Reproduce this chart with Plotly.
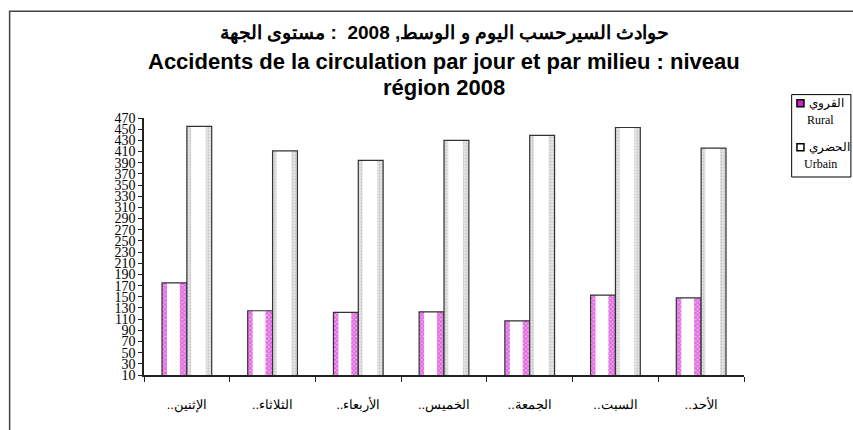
import plotly.graph_objects as go

# jours (étiquettes de l'axe des x)
days = ['الإثنين..\u200f', 'الثلاثاء..\u200f', 'الأربعاء..\u200f', 'الخميس..\u200f',
        'الجمعة..\u200f', 'السبت..\u200f', 'الأحد..\u200f']
rural = [175, 125, 122, 123, 107, 153, 148]
urbain = [455, 411, 394, 430, 439, 453, 416]
y_ticks = list(range(10, 471, 20))

title_ar = 'حوادث السيرحسب اليوم و الوسط, 2008  : مستوى الجهة'
title_fr_1 = 'Accidents de la circulation par jour et par milieu : niveau'
title_fr_2 = 'région 2008'
legend_rural = ('القروي', 'Rural')
legend_urbain = ('الحضري', 'Urbain')

W, H = 853, 430
L, R, T, B = 143.5, 109, 117.7, 55.3
PW, PH = W - L - R, H - T - B


def px(x):
    return (x - L) / PW


def py(y):
    return (H - B - y) / PH


BW = 0.29  # bar width in category units


def layer(vals, offset, width, color, pattern=None, line=None):
    return go.Bar(
        x=days, y=vals, offset=offset, width=width,
        marker=dict(color=color, pattern=pattern or {},
                    line=line or dict(width=0)),
        showlegend=False, hoverinfo='skip'
    )


fig = go.Figure()
# rural : cylindre rose / magenta
fig.add_trace(layer(rural, -BW, BW, 'white',
                    dict(shape='x', fgcolor='#d010d0', bgcolor='#f0b0f0', size=3, solidity=0.6)))
fig.add_trace(layer(rural, -BW + 0.058, 0.15, 'white'))
fig.add_trace(layer(rural, -BW, BW, 'rgba(0,0,0,0)',
                    line=dict(color='#333333', width=1.2)))
# urbain : cylindre blanc / gris
fig.add_trace(layer(urbain, 0, BW, '#d0d0d0',
                    dict(shape='.', fgcolor='#a8a8a8', bgcolor='#e4e4e4', size=3, solidity=0.3)))
fig.add_trace(layer(urbain, 0.05, 0.17, 'white'))
fig.add_trace(layer(urbain, 0, BW, 'rgba(0,0,0,0)',
                    line=dict(color='#333333', width=1.2)))

ann = []
for txt, yy, size in [(title_ar, 33, 19), (title_fr_1, 61, 22), (title_fr_2, 87, 22)]:
    ann.append(dict(text=f'<b>{txt}</b>', x=0.5, y=py(yy), xref='paper', yref='paper',
                    showarrow=False, xanchor='center', yanchor='middle',
                    font=dict(family='Liberation Sans, Arial', size=size, color='black')))

leg_font = dict(family='Liberation Serif, Times New Roman', size=12, color='black')
shapes = [
    # cadre extérieur
    dict(type='rect', xref='paper', yref='paper', x0=px(9), x1=px(900), y0=py(470), y1=py(11),
         line=dict(color='#444444', width=1.5)),
    # cadre de la légende
    dict(type='rect', xref='paper', yref='paper', x0=px(791.7), x1=px(851), y0=py(176.7), y1=py(94.3),
         line=dict(color='black', width=1), fillcolor='white'),
]
for (ar, fr), y0, fill in [(legend_rural, 103, '#d020d0'), (legend_urbain, 147, 'white')]:
    shapes.append(dict(type='rect', xref='paper', yref='paper', x0=px(797), x1=px(804),
                       y0=py(y0 + 3.5), y1=py(y0 - 3.5), fillcolor=fill,
                       line=dict(color='black', width=1.5)))
    ann.append(dict(text=ar, x=px(807), y=py(y0), xref='paper', yref='paper', showarrow=False,
                    xanchor='left', yanchor='middle', font=leg_font))
    ann.append(dict(text=fr, x=px(821), y=py(y0 + 17), xref='paper', yref='paper', showarrow=False,
                    xanchor='center', yanchor='middle', font=leg_font))

fig.update_layout(
    width=W, height=H,
    margin=dict(l=L, r=R, t=T, b=B, pad=0),
    paper_bgcolor='white', plot_bgcolor='white',
    barmode='overlay',
    showlegend=False,
    annotations=ann,
    shapes=shapes,
    xaxis=dict(
        type='category', showgrid=False, showline=True, linecolor='#222222', linewidth=2,
        ticks='outside', tickson='boundaries', ticklen=5, tickcolor='#222222',
        ticklabelstandoff=16,
        tickfont=dict(family='Liberation Sans, Arial', size=13, color='black'),
    ),
    yaxis=dict(
        range=[10, 470], tickvals=y_ticks, showgrid=False, zeroline=False,
        showline=True, linecolor='#222222', linewidth=1.5,
        ticks='outside', ticklen=4, tickcolor='#222222',
        tickfont=dict(family='Liberation Serif, Times New Roman', size=14, color='black'),
    ),
)

# la page par défaut a une marge de 8px autour du graphique
fig.write_html('out.html', config={'displayModeBar': False},
               post_script="document.body.style.margin='0';")
